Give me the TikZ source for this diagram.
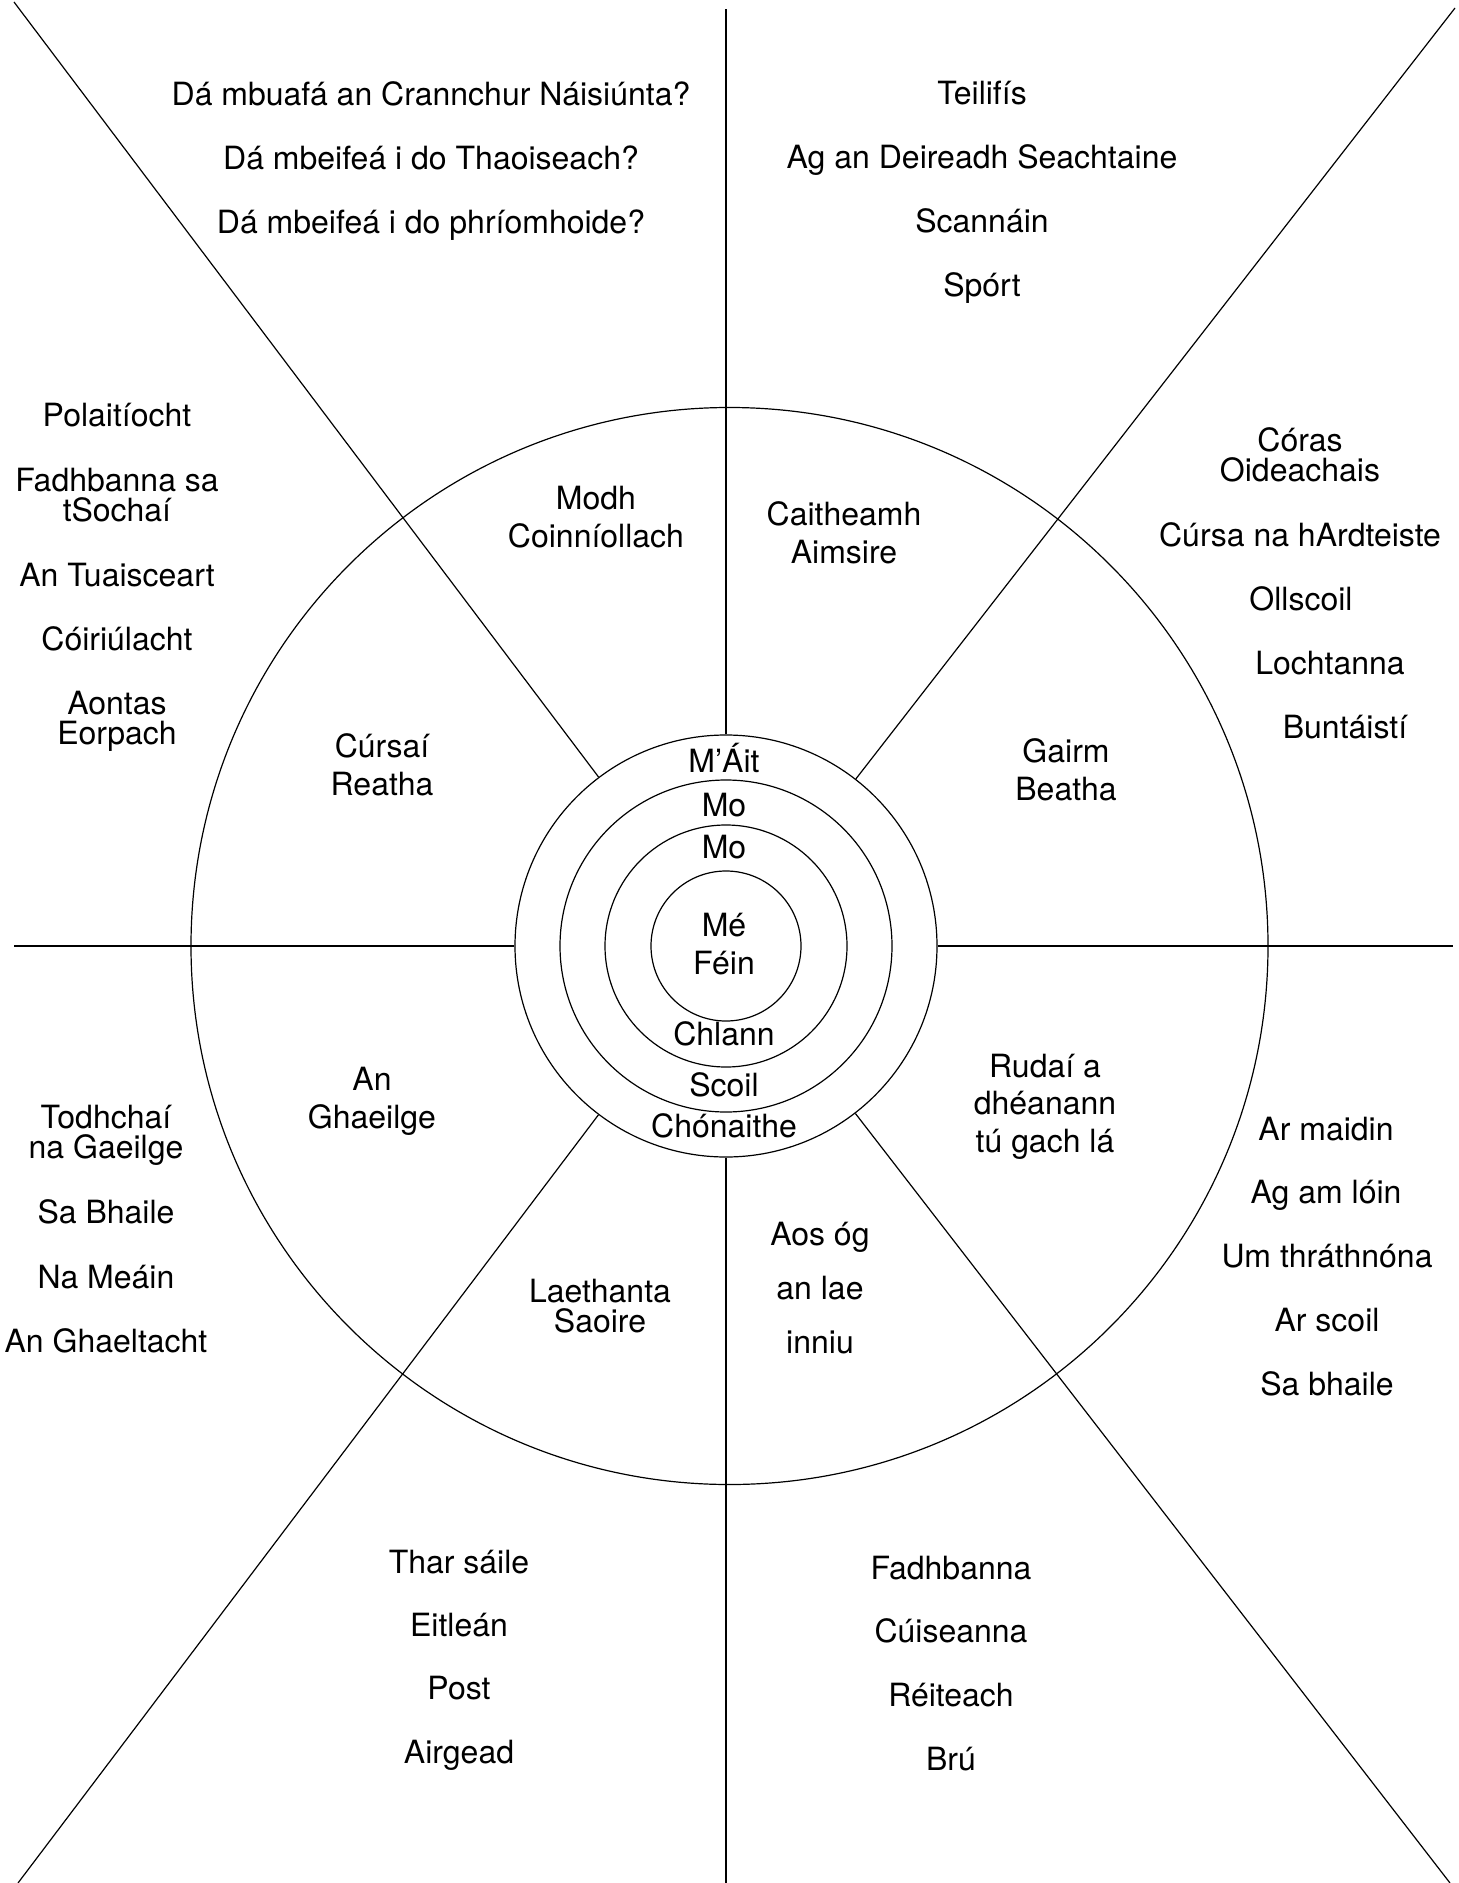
\documentclass[tikz,border=0pt]{standalone}
\usepackage{fontspec}
\setmainfont{TeX Gyre Heros}
\begin{document}
\begin{tikzpicture}[x=0.5pt,y=-0.5pt,
  ring/.style={circle,draw,line width=0.6pt,inner sep=0pt},
  spoke/.style={-,line width=0.6pt},
  word/.style={anchor=base,align=center,inner sep=0pt,font=\fontsize{16}{15}\selectfont},
  topic/.style={anchor=base,align=center,inner sep=0pt,font=\fontsize{16}{18.75}\selectfont}]

\useasboundingbox (0,0) rectangle (1459,1883);

% wheel and rings
\node [ring,minimum size=538.5pt] (wheel) at (729.5,946) {};
\node [ring,minimum size=211pt] (r4) at (726,946) {};
\node [ring,minimum size=166pt] (r3) at (726,946) {};
\node [ring,minimum size=121pt] (r2) at (726,946) {};
\node [ring,minimum size=75pt] (r1) at (726,946) {};

\coordinate (n) at (726,9);
\coordinate (s) at (726,1883);
\coordinate (w) at (14,946);
\coordinate (e) at (1453,946);
\coordinate (nw) at (14,2);
\coordinate (ne) at (1455,8);
\coordinate (sw) at (18,1883);
\coordinate (se) at (1450,1883);
\foreach \p in {n,s,w,e,nw,ne,sw,se}
  \draw [spoke] (r4) -- (\p);

% centre (multi-line nodes sit on their last line)
\node [word] (mait) at (724,772) {M’Áit};
\node [word] (mo1) at (724,816) {Mo};
\node [word] (mo2) at (724,858) {Mo};
\node [topic] (me) at (724,974) {Mé\\Féin};
\node [word] (chlann) at (724,1045) {Chlann};
\node [word] (scoil) at (724,1096) {Scoil};
\node [word] (chonaithe) at (724,1137) {Chónaithe};

% topics inside the wheel
\node [topic] (modh) at (596,547) {Modh\\Coinníollach};
\node [topic] (caith) at (844,563) {Caitheamh\\Aimsire};
\node [topic] (cursai) at (382,795) {Cúrsaí\\Reatha};
\node [topic] (gairm) at (1066,800) {Gairm\\Beatha};
\node [topic] (ghaeilge) at (372,1128) {An\\Ghaeilge};
\node [topic] (rudai) at (1045,1152) {Rudaí a\\dhéanann\\tú gach lá};
\node [word] (laeth) at (600,1332) {Laethanta\\Saoire};
\node [word,font=\fontsize{16}{27}\selectfont] (aos) at (820,1353) {Aos óg\\an lae\\inniu};

% outside the wheel
\node [word] (q1) at (431,106) {Dá mbuafá an Crannchur Náisiúnta?};
\node [word] (q2) at (431,170) {Dá mbeifeá i do Thaoiseach?};
\node [word] (q3) at (431,234) {Dá mbeifeá i do phríomhoide?};

\node [word] (c1) at (982,105) {Teilifís};
\node [word] (c2) at (982,169) {Ag an Deireadh Seachtaine};
\node [word] (c3) at (982,233) {Scannáin};
\node [word] (c4) at (982,297) {Spórt};

\node [word] (p1) at (117,426) {Polaitíocht};
\node [word] (p2) at (117,521) {Fadhbanna sa\\tSochaí};
\node [word] (p3) at (117,586) {An Tuaisceart};
\node [word] (p4) at (117,650) {Cóiriúlacht};
\node [word] (p5) at (117,744) {Aontas\\Eorpach};

\node [word] (g1) at (1300,481) {Córas\\Oideachais};
\node [word] (g2) at (1300,546) {Cúrsa na hArdteiste};
\node [word] (g3) at (1301,610) {Ollscoil};
\node [word] (g4) at (1330,674) {Lochtanna};
\node [word] (g5) at (1345,738) {Buntáistí};

\node [word] (l1) at (106,1158) {Todhchaí\\na Gaeilge};
\node [word] (l2) at (106,1223) {Sa Bhaile};
\node [word] (l3) at (106,1288) {Na Meáin};
\node [word] (l4) at (106,1352) {An Ghaeltacht};

\node [word] (d1) at (1326,1140) {Ar maidin};
\node [word] (d2) at (1326,1203) {Ag am lóin};
\node [word] (d3) at (1327,1267) {Um thráthnóna};
\node [word] (d4) at (1327,1331) {Ar scoil};
\node [word] (d5) at (1327,1395) {Sa bhaile};

\node [word] (h1) at (459,1573) {Thar sáile};
\node [word] (h2) at (459,1636) {Eitleán};
\node [word] (h3) at (459,1699) {Post};
\node [word] (h4) at (459,1763) {Airgead};

\node [word] (f1) at (951,1579) {Fadhbanna};
\node [word] (f2) at (951,1642) {Cúiseanna};
\node [word] (f3) at (951,1706) {Réiteach};
\node [word] (f4) at (951,1770) {Brú};

\end{tikzpicture}
\end{document}
